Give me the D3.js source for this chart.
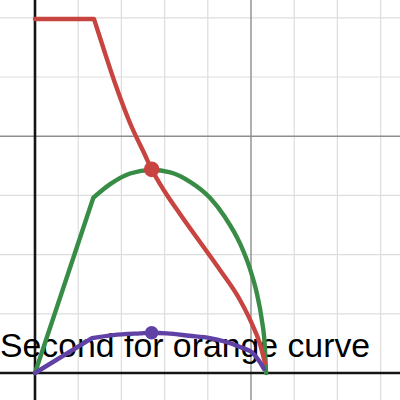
<!DOCTYPE html>
<html>
<head>
<meta charset="utf-8">
<script src="https://cdn.jsdelivr.net/npm/d3@7"></script>
<style>
html,body{margin:0;padding:0;background:#fff;}
svg{display:block;}
</style>
</head>
<body>
<svg id="chart" width="400" height="400"></svg>
<script>
// ---- data (graph units; minor grid step = 1) ----
const xTicks = [0,1,2,3,4,5,6,7,8];
const yTicks = [0,1,2,3,4,5,6];
const xMajor = [0,5];
const yMajor = [0,4];

const redX = [0, 1.366, 1.597, 1.875, 2.199, 2.546, 2.701, 3.009, 3.356, 3.819, 4.282, 4.745, 5.023, 5.208, 5.324];
const redY = [5.98, 5.98, 5.456, 4.848, 4.223, 3.682, 3.441, 3.057, 2.686, 2.213, 1.740, 1.233, 0.828, 0.490, 0.169];

const greenX = [0, 1.35, 1.74, 2.20, 2.70, 3.13, 3.59, 4.05, 4.40, 4.75, 4.98, 5.14, 5.25, 5.32, 5.35];
const greenY = [0, 2.96, 3.19, 3.37, 3.43, 3.39, 3.23, 2.96, 2.63, 2.18, 1.75, 1.33, 0.90, 0.45, 0.0];

const purpleX = [0, 1.32, 1.81, 2.43, 2.70, 3.05, 3.57, 4.05, 4.75, 5.05, 5.13, 5.22, 5.30];
const purpleY = [0, 0.59, 0.64, 0.67, 0.68, 0.67, 0.63, 0.59, 0.44, 0.33, 0.26, 0.17, 0.07];

const dotX = [2.70, 2.70];
const dotY = [3.44, 0.68];
const dotColor = ["#c74440", "#6042a6"];

const labelText = "Second for orange curve";

// ---- drawing ----
const W = 400, H = 400;
const svg = d3.select("#chart");
const x = d3.scaleLinear().domain([-35/43.2, 365/43.2]).range([0, W]);
const y = d3.scaleLinear().domain([-27/59.2, 373/59.2]).range([H, 0]);

const g = svg.append("g");
// minor grid
g.selectAll(".vmin").data(xTicks.filter(t => !xMajor.includes(t))).enter().append("line")
  .attr("x1", d => x(d)).attr("x2", d => x(d)).attr("y1", 0).attr("y2", H)
  .attr("stroke", "#dddddd").attr("stroke-width", 1.2);
g.selectAll(".hmin").data(yTicks.filter(t => !yMajor.includes(t))).enter().append("line")
  .attr("y1", d => y(d)).attr("y2", d => y(d)).attr("x1", 0).attr("x2", W)
  .attr("stroke", "#dddddd").attr("stroke-width", 1.2);
// major grid
g.selectAll(".vmaj").data(xMajor.filter(t => t !== 0)).enter().append("line")
  .attr("x1", d => x(d)).attr("x2", d => x(d)).attr("y1", 0).attr("y2", H)
  .attr("stroke", "#8e8e8e").attr("stroke-width", 1.4);
g.selectAll(".hmaj").data(yMajor.filter(t => t !== 0)).enter().append("line")
  .attr("y1", d => y(d)).attr("y2", d => y(d)).attr("x1", 0).attr("x2", W)
  .attr("stroke", "#8e8e8e").attr("stroke-width", 1.4);
// axes
g.append("line").attr("x1", x(0)).attr("x2", x(0)).attr("y1", 0).attr("y2", H)
  .attr("stroke", "#151515").attr("stroke-width", 2.6);
g.append("line").attr("y1", y(0)).attr("y2", y(0)).attr("x1", 0).attr("x2", W)
  .attr("stroke", "#151515").attr("stroke-width", 2.6);

svg.append("text").attr("x", 0).attr("y", 357)
  .attr("font-family", "Liberation Sans, Arial, sans-serif")
  .attr("font-size", 33.8).attr("fill", "#000")
  .text(labelText);

function drawCurve(xs, ys, color) {
  const pts = xs.map((v, i) => [v, ys[i]]);
  const lin = d3.line().x(d => x(d[0])).y(d => y(d[1])).curve(d3.curveLinear);
  const smooth = d3.line().x(d => x(d[0])).y(d => y(d[1])).curve(d3.curveMonotoneX);
  const path = lin(pts.slice(0, 2)) + smooth(pts.slice(1)).replace(/^M/, "L");
  svg.append("path").attr("d", path).attr("fill", "none")
    .attr("stroke", color).attr("stroke-width", 4.4)
    .attr("stroke-linejoin", "round").attr("stroke-linecap", "round");
}
drawCurve(greenX, greenY, "#388c46");
drawCurve(redX, redY, "#c74440");
drawCurve(purpleX, purpleY, "#6042a6");

svg.selectAll(".dot").data(dotX).enter().append("circle")
  .attr("cx", d => x(d)).attr("cy", (d, i) => y(dotY[i]))
  .attr("r", (d, i) => i === 0 ? 7.8 : 6.8)
  .attr("fill", (d, i) => dotColor[i]);
</script>
</body>
</html>
